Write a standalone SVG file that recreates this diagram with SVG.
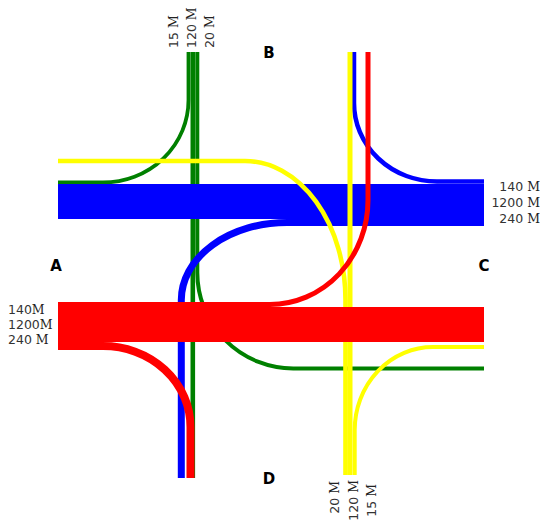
<svg xmlns="http://www.w3.org/2000/svg" width="543" height="524" viewBox="0 0 543 524">
<style>
.f{fill:none;stroke-linecap:butt;stroke-linejoin:round}
.g{stroke:#008000}
.b{stroke:#0000ff}
.y{stroke:#ffff00}
.r{stroke:#ff0000}
.node{font-family:"DejaVu Sans",Verdana,sans-serif;font-weight:bold;font-size:15px;fill:#000;text-anchor:middle}
.v{font-family:"DejaVu Sans",Verdana,sans-serif;font-size:12.5px;fill:#333}
.m{font-family:"DejaVu Serif","Liberation Serif",serif;fill:#222}
</style>
<rect width="543" height="524" fill="#fff"/>
<g id="connectors">
  <path class="f g" stroke-width="3.8" d="M188.5 52 V100 A85.5 82.5 0 0 1 103 182.5 H58"/>
  <path class="f g" stroke-width="4.6" d="M192.8 52 V478"/>
  <path class="f g" stroke-width="4" d="M197.3 52 V272 A96 96 0 0 0 293.3 368.5 H484"/>
  <path class="f b" stroke-width="35" d="M58 201.5 H484"/>
  <path class="f b" stroke-width="4.5" d="M354 52 V103 A83 78.5 0 0 0 437 181.5 H484"/>
  <path class="f b" stroke-width="7" d="M181.3 478 V300 A105.7 77.5 0 0 1 287 222.5 H484"/>
  <path class="f y" stroke-width="4.6" d="M58 161 H245 A100.5 139 0 0 1 345.5 300 V475"/>
  <path class="f y" stroke-width="5" d="M350 52 V475"/>
  <path class="f y" stroke-width="4" d="M484 347 H433 A78.3 83 0 0 0 354.7 430 V475"/>
  <path class="f r" stroke-width="35" d="M58 324.5 H484"/>
  <path class="f r" stroke-width="5" d="M368 52 V200 A98 104.5 0 0 1 270 304.5 H58"/>
  <path class="f r" stroke-width="8" d="M58 346 H103 A87.5 81 0 0 1 190.5 427 V478"/>
</g>
<g id="node-A">
  <text class="node" x="56" y="271">A</text>
  <text class="v" x="8" y="314">140<tspan class="m">M</tspan></text>
  <text class="v" x="8" y="329">1200<tspan class="m">M</tspan></text>
  <text class="v" x="8" y="344">240 <tspan class="m">M</tspan></text>
</g>
<g id="node-B">
  <text class="node" x="269" y="58">B</text>
  <text class="v" transform="translate(177.5,48) rotate(-90)">15 <tspan class="m">M</tspan></text>
  <text class="v" transform="translate(196,48) rotate(-90)">120 <tspan class="m">M</tspan></text>
  <text class="v" transform="translate(214,48) rotate(-90)">20 <tspan class="m">M</tspan></text>
</g>
<g id="node-C">
  <text class="node" x="484" y="271">C</text>
  <text class="v" text-anchor="end" x="540" y="191">140 <tspan class="m">M</tspan></text>
  <text class="v" text-anchor="end" x="540" y="207">1200 <tspan class="m">M</tspan></text>
  <text class="v" text-anchor="end" x="540" y="223">240 <tspan class="m">M</tspan></text>
</g>
<g id="node-D">
  <text class="node" x="269" y="484">D</text>
  <text class="v" text-anchor="end" transform="translate(339,481) rotate(-90)">20 <tspan class="m">M</tspan></text>
  <text class="v" text-anchor="end" transform="translate(357.5,480) rotate(-90)">120 <tspan class="m">M</tspan></text>
  <text class="v" text-anchor="end" transform="translate(376,484) rotate(-90)">15 <tspan class="m">M</tspan></text>
</g>
</svg>
